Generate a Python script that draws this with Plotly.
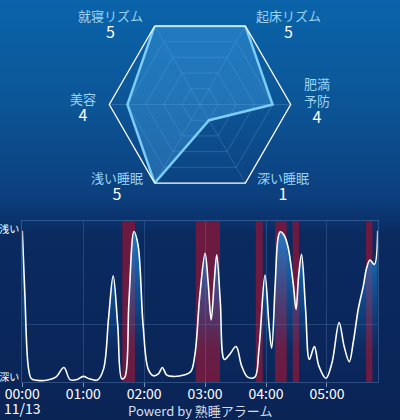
import base64
import plotly.graph_objects as go

# --- radar data (clockwise from the top-right vertex) ---
radar_labels = ["起床リズム", "肥満予防", "深い睡眠", "浅い睡眠", "美容", "就寝リズム"]
radar_values = [5, 4, 1, 5, 4, 5]

# --- sleep depth curve: minutes after 00:00, depth 0 (深い) .. 100 (浅い) ---
sleep_minutes = [0, 2.5, 6, 9, 15, 25, 33, 41, 47, 54, 60, 66, 74, 80, 85, 89.5, 94, 98,
                 101, 105, 110, 114, 119, 124, 129, 134, 138, 142, 148, 160, 166, 170,
                 175, 180, 183, 186, 189, 191.5, 195, 199, 204, 210.5, 216, 222, 229,
                 233, 239, 243, 245.6, 249, 252, 254, 258, 262, 267, 269.6, 272, 275,
                 279, 282.7, 287.6, 292, 299, 305, 312, 317, 322, 326, 331, 336, 339,
                 342.4, 346.7, 350]
sleep_depth = [94, 55, 9, 2, 1, 1.2, 3, 9, 1.5, 1.5, 3.5, 2, 1.2, 8, 40, 66, 35, 2,
               3, 50, 93.5, 85, 35, 8, 3.9, 5, 9, 4.5, 3.5, 4.5, 6.5, 17,
               55, 80, 62, 38.5, 62, 79, 50, 14, 17, 22, 10, 3, 3,
               20, 66.5, 35, 21, 60, 90, 93.3, 91, 83, 60, 45, 65, 79.3,
               45, 14, 22, 10, 2.3, 12, 37, 22, 12.6, 25, 45.8, 60, 70.6,
               75.8, 73, 94]

# snore / movement bands (start, end) in minutes
band_starts = [98.5, 170.8, 230, 248.9, 266.3, 338.5]
band_ends = [111, 194.7, 236.8, 260.4, 272.6, 344.8]

hour_ticks = [0, 60, 120, 180, 240, 300]
hour_labels = ["00:00", "01:00", "02:00", "03:00", "04:00", "05:00"]
date_label = "11/13"
depth_ticks = [3, 95]
depth_labels = ["深い", "浅い"]

FONT = "Noto Sans CJK JP"
W, H = 400, 420

bg_svg = (
    "<svg xmlns='http://www.w3.org/2000/svg' width='400' height='420'>"
    "<defs><linearGradient id='g' x1='0' y1='0' x2='0' y2='1'>"
    "<stop offset='0' stop-color='#0a64aa'/>"
    "<stop offset='0.25' stop-color='#0c5596'/>"
    "<stop offset='0.47' stop-color='#0c3f7e'/>"
    "<stop offset='0.56' stop-color='#0a2a60'/>"
    "<stop offset='1' stop-color='#0a2456'/>"
    "</linearGradient></defs>"
    "<rect width='400' height='420' fill='url(#g)'/></svg>"
)
bg_uri = "data:image/svg+xml;base64," + base64.b64encode(bg_svg.encode()).decode()

fig = go.Figure()

fig.add_trace(go.Scatterpolar(
    r=radar_values + radar_values[:1],
    theta=radar_labels + radar_labels[:1],
    mode="lines",
    line=dict(color="#7ccdf6", width=2.5),
    fill="toself",
    fillcolor="rgba(70,165,235,0.38)",
    hoverinfo="skip",
))

fig.add_trace(go.Scatter(
    x=sleep_minutes,
    y=sleep_depth,
    mode="lines",
    line=dict(color="white", width=1.6, shape="spline", smoothing=1.0),
    fill="tozeroy",
    fillgradient=dict(
        type="vertical",
        start=0,
        stop=100,
        colorscale=[[0, "rgba(20,110,190,0)"],
                    [0.2, "rgba(20,110,190,0.05)"],
                    [1, "rgba(28,135,215,0.95)"]],
    ),
    hoverinfo="skip",
))

for s, e in zip(band_starts, band_ends):
    fig.add_shape(type="rect", xref="x", yref="y domain", x0=s, x1=e, y0=0, y1=1,
                  fillcolor="#6c1a40", line_width=0, layer="below")

# radar labels: name in light blue, score in white
label_pos = {
    "就寝リズム": (110, 24),
    "起床リズム": (288, 24),
    "肥満予防": (317, 101),
    "美容": (83, 108),
    "浅い睡眠": (117, 186),
    "深い睡眠": (283, 186),
}
for name, val in zip(radar_labels, radar_values):
    px, py = label_pos[name]
    shown = "肥満<br>予防" if name == "肥満予防" else name
    shown = shown.replace("<br>", "</span><br><span style='color:#9ad4f6'>")
    fig.add_annotation(
        x=px / W, y=1 - py / H, xref="paper", yref="paper",
        text=f"<span style='color:#9ad4f6'>{shown}</span><br>"
             f"<span style='font-size:16px'>{val}</span>",
        showarrow=False, xanchor="center", yanchor="middle",
        font=dict(family=FONT, size=13, color="white"),
    )

# date under the first hour label
fig.add_annotation(
    x=hour_ticks[0], y=1 - 408 / H, xref="x", yref="paper",
    text=date_label, showarrow=False, xanchor="center", yanchor="middle",
    font=dict(family=FONT, size=14, color="white"),
)

fig.add_annotation(
    x=0.5, y=10 / H, xref="paper", yref="paper",
    text="Powerd by 熟睡アラーム", showarrow=False,
    xanchor="center", yanchor="middle",
    font=dict(family=FONT, size=13, color="#d5dff0"),
)

fig.update_layout(
    width=W, height=H,
    margin=dict(l=0, r=0, t=0, b=0),
    paper_bgcolor="#0a2456",
    plot_bgcolor="rgba(0,0,0,0)",
    showlegend=False,
    font=dict(family=FONT, color="white"),
    images=[dict(source=bg_uri, xref="paper", yref="paper", x=0, y=1,
                 sizex=1, sizey=1, sizing="stretch", layer="below",
                 xanchor="left", yanchor="top")],
    polar=dict(
        domain=dict(x=[(200 - 90.7) / W, (200 + 90.7) / W],
                    y=[(315.5 - 90.7) / H, (315.5 + 90.7) / H]),
        bgcolor="rgba(0,0,0,0)",
        gridshape="linear",
        angularaxis=dict(
            direction="clockwise", rotation=60,
            showticklabels=False, ticks="",
            gridcolor="rgba(150,195,235,0.22)", gridwidth=1,
            linecolor="white", linewidth=1.3,
        ),
        radialaxis=dict(
            range=[0, 5], tickvals=[1, 2, 3, 4],
            showticklabels=False, ticks="", showline=False,
            gridcolor="rgba(150,195,235,0.22)", gridwidth=1,
        ),
    ),
    xaxis=dict(
        domain=[22.3 / W, 377.7 / W],
        range=[0, 350],
        automargin=False,
        tickvals=hour_ticks, ticktext=hour_labels,
        ticks="outside", ticklen=4, tickcolor="rgba(170,195,230,0.7)",
        ticklabelstandoff=-5,
        tickfont=dict(family=FONT, size=14, color="white"),
        showgrid=True, gridcolor="rgba(120,155,210,0.25)", gridwidth=1,
        showline=True, mirror=True, linecolor="rgba(120,155,210,0.35)",
        zeroline=False, fixedrange=True,
    ),
    yaxis=dict(
        domain=[38 / H, 199 / H],
        range=[0, 100],
        automargin=False,
        tickvals=depth_ticks, ticktext=depth_labels,
        ticks="", tickfont=dict(family=FONT, size=10, color="white"),
        showgrid=False,
        minor=dict(tickvals=[36], showgrid=True,
                   gridcolor="rgba(120,155,210,0.25)", ticks=""),
        showline=True, mirror=True, linecolor="rgba(120,155,210,0.35)",
        zeroline=False, fixedrange=True,
    ),
)

# the page body has a default 8px margin; drop it so the figure sits at 0,0
fig.write_html("out.html", config={"displayModeBar": False},
               post_script="document.body.style.margin = '0';")
